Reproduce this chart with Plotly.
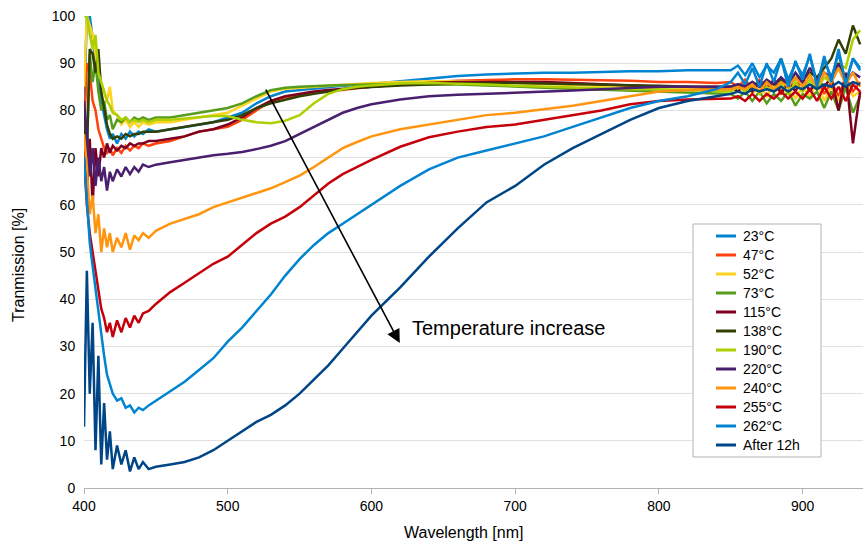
import plotly.graph_objects as go

wavelength = [400, 402, 404, 406, 408, 410, 412, 414, 416, 418, 420, 423, 426, 429, 432, 435, 438, 441, 445, 450,
              460, 470, 480, 490, 500, 510, 520, 530, 540, 550, 560, 570, 580, 590, 600,
              620, 640, 660, 680, 700, 720, 740, 760, 780, 800, 820, 840,
              850, 855, 860, 865, 870, 875, 880, 885, 890, 895, 900, 905, 910, 915, 920, 925, 930, 935, 940]

t23 = [80, 100, 100, 95, 90, 86, 82, 79, 76, 74, 75, 73, 75, 74, 75.5, 74.5, 75.5, 75, 76, 75.5,
       76, 76.5, 77, 77.5, 78.5, 79.5, 81.5, 83, 84, 84.3, 84.6, 85, 85.2, 85.4, 85.6,
       86.2, 86.8, 87.3, 87.6, 87.8, 88, 88, 88.2, 88.3, 88.3, 88.5, 88.5,
       88.5, 89.5, 87.5, 90, 87, 89.5, 88, 91, 86.5, 90, 87.5, 91.5, 86, 90.5, 87, 92, 86, 91, 88.5]
t47 = [75, 90, 88, 82, 80, 76, 74, 72, 71, 72, 70.5, 72, 71, 72.5, 71.5, 72.5, 72, 73, 72.5, 73,
       73.5, 74.5, 75.5, 76, 76.5, 78, 80, 82, 82.8, 83.3, 83.7, 84, 84.4, 84.7, 85,
       85.5, 86, 86.3, 86.5, 86.6, 86.6, 86.5, 86.5, 86.3, 86, 86, 85.8,
       86, 85, 86.5, 84.5, 86.5, 85, 86.5, 84, 86, 85, 87, 84, 86.5, 83.5, 86, 83, 87, 84, 86]
t52 = [85, 100, 98, 96, 92, 88, 86, 84, 82, 85, 80, 79, 77, 78, 76.5, 77.5, 76.5, 77.5, 77, 77.5,
       77.5, 78, 78.5, 79, 79.5, 81, 82.5, 84, 84.6, 84.8, 85, 85.3, 85.5, 85.7, 85.8,
       86, 86.2, 86.2, 86, 85.8, 85.6, 85.5, 85.3, 85, 85, 84.8, 84.5,
       85, 84, 85.5, 83.5, 85.5, 83, 85.5, 83.5, 85, 82.5, 85, 83, 86, 82, 85, 82, 86, 83, 84]
t73 = [78, 72, 92, 86, 90, 84, 80, 82, 78, 79, 76, 78, 77.5, 78.5, 77.5, 78.5, 78, 78.5, 78, 78.5,
       78.5, 79, 79.5, 80, 80.5, 81.5, 83, 84.3, 84.8, 85, 85.2, 85.3, 85.4, 85.4, 85.5,
       85.6, 85.6, 85.5, 85.3, 85, 84.8, 84.6, 84.4, 84.2, 84, 83.8, 83.5,
       83.5, 82.5, 84, 82, 84, 81.5, 83.5, 82, 84, 81, 83.5, 82.5, 84, 80.5, 84, 80, 85, 79.5, 83]
t115 = [78, 62, 74, 60, 72, 66, 72, 70, 73, 71, 72.5, 71.5, 72.5, 72, 73, 72.5, 73, 73, 73.5, 73.5,
        74, 74.5, 75.5, 76, 77, 78.5, 80.5, 82, 83, 83.5, 84, 84.3, 84.6, 84.8, 85,
        85.5, 85.8, 86, 86, 86, 86, 85.8, 85.5, 85.3, 85, 85, 84.8,
        85, 84, 85.5, 84, 86, 84.5, 86.5, 83.5, 86, 84, 87, 84, 86.5, 85, 87, 80, 88, 73, 84]
t138 = [80, 70, 93, 92, 88, 93, 84, 80, 77, 75, 74, 74.5, 74, 75, 74.5, 75, 75, 75.5, 75.5, 75.5,
        76, 76.5, 77, 77.5, 78, 79, 80.5, 81.5, 82.3, 83, 83.5, 84, 84.5, 84.8, 85,
        85.3, 85.5, 85.7, 85.8, 85.8, 85.7, 85.6, 85.5, 85.3, 85.2, 85, 85,
        85, 85.5, 85, 86, 85, 86, 85.5, 86.5, 85, 87, 86.5, 88, 87, 89, 91, 95, 92, 98, 94]
t190 = [100, 100, 96, 93, 96, 88, 86, 84, 82, 81, 79.5, 79, 78, 78.5, 77.5, 78, 77.5, 78, 77.5, 78,
        78, 78.3, 78.5, 78.8, 78.8, 78, 77.5, 77.3, 77.8, 79, 81.5, 83.5, 84.5, 85, 85.3,
        85.7, 85.8, 85.7, 85.5, 85.2, 85, 84.8, 84.6, 84.5, 84.5, 84.3, 84,
        84, 85, 84, 85.5, 83.5, 85, 84, 85.5, 83.5, 86, 84, 86.5, 84.5, 87, 86, 90, 89, 95, 97]
t220 = [82, 75, 66, 72, 64, 70, 65, 68, 63, 67, 65, 67.5, 66, 68, 66.5, 68, 67, 68.5, 68, 68.5,
        69, 69.5, 70, 70.5, 70.8, 71.2, 71.8, 72.5, 73.5, 75, 76.5, 78, 79.5, 80.5, 81.3,
        82.3, 83, 83.3, 83.5, 83.7, 84, 84.2, 84.5, 84.7, 85, 85, 85,
        85, 85.5, 85, 86, 85, 86.5, 85.5, 87, 85.5, 88, 86, 89, 86.5, 88, 87, 90, 86, 88, 87]
t240 = [75, 68, 58, 62, 54, 58, 50, 55, 51, 54, 50, 53, 51, 54, 50.5, 53.5, 52.5, 54, 53, 54.5,
        56, 57, 58, 59.5, 60.5, 61.5, 62.5, 63.5, 64.8, 66.2, 68, 70, 72, 73.3, 74.5,
        76, 77, 78, 79, 79.5, 80.3, 81, 82, 83, 84, 84.3, 84.5,
        84.5, 85, 84.5, 85.5, 84, 86, 84.5, 86, 85, 87, 85, 87.5, 85, 88, 86, 89, 85.5, 88, 85]
t255 = [70, 60, 54, 50, 46, 42, 38, 36, 33, 35, 32, 35.5, 33, 36, 34, 36.5, 35, 37, 37.5, 39,
        41.5, 43.5, 45.5, 47.5, 49, 51.5, 54, 56, 57.5, 59.5, 62, 64.5, 66.5, 68, 69.5,
        72.3, 74.3, 75.5, 76.5, 77, 78, 79, 80, 81.3, 82, 82.3, 82.5,
        82.5, 83, 82, 83.5, 82, 83.5, 82.5, 84, 82.5, 84, 82.5, 84.5, 82, 85, 82.5, 85, 82, 85.5, 84]
t262 = [70, 62, 52, 47, 42, 37, 32, 28, 24, 22, 20, 18.5, 19, 17, 17.5, 16, 17, 16.5, 17.5, 18.5,
        20.5, 22.5, 25, 27.5, 31, 34, 37.5, 41, 45, 48.5, 51.5, 54, 56, 58, 60,
        64, 67.5, 70, 71.5, 73, 74.5, 76.5, 78.5, 80.5, 82, 83, 84.5,
        86, 88, 85.5, 89, 85, 90, 86, 91, 85, 90.5, 86.5, 92, 85, 91.5, 86, 93, 85.5, 91, 89]
t12h = [13, 46, 20, 35, 8, 28, 5, 18, 6, 12, 4, 9, 5, 8, 3.5, 6.5, 4, 5.5, 4, 4.5,
        5, 5.5, 6.5, 8, 10, 12, 14, 15.5, 17.5, 20, 23, 26, 29.5, 33, 36.5,
        42.5, 49, 55, 60.5, 64, 68.5, 72, 75, 78, 80.5, 82, 83,
        83.5, 84, 83.5, 84.5, 84, 84.5, 84, 85, 84, 85, 84.5, 85.5, 84.5, 85.5, 85, 86, 85, 86, 85.5]

series_names = ["23°C", "47°C", "52°C", "73°C", "115°C", "138°C", "190°C", "220°C",
                "240°C", "255°C", "262°C", "After 12h"]
series_values = [t23, t47, t52, t73, t115, t138, t190, t220, t240, t255, t262, t12h]
series_colors = ["#0084d1", "#ff420e", "#ffd320", "#579d1c", "#7e0021", "#314004",
                 "#aecf00", "#4b1f6f", "#ff950e", "#c5000b", "#0084d1", "#004586"]

x_ticks = [400, 500, 600, 700, 800, 900]
y_ticks = [0, 10, 20, 30, 40, 50, 60, 70, 80, 90, 100]

FONT = "Liberation Sans, Arial, sans-serif"

W, H = 864, 545
ML, MR, MT, MB = 84, 1, 16, 57
PW, PH = W - ML - MR, H - MT - MB


def px_x(p):
    return (p - ML) / PW


def px_y(p):
    return (H - MB - p) / PH


fig = go.Figure()
for name, vals, col in zip(series_names, series_values, series_colors):
    fig.add_trace(go.Scatter(x=wavelength, y=vals, mode="lines", name=name,
                             line=dict(color=col, width=2.5), showlegend=False))

# arrow and label
fig.add_annotation(x=619.7, y=30.7, ax=525.9, ay=84.7, xref="x", yref="y",
                   axref="x", ayref="y", text="", showarrow=True,
                   arrowhead=2, arrowsize=1.7, arrowwidth=1.6, arrowcolor="#000000")
fig.add_annotation(x=627, y=34, xref="x", yref="y", text="Temperature increase",
                   showarrow=False, xanchor="left", yanchor="middle",
                   font=dict(family=FONT, size=20, color="#000000"))

# axis titles
fig.add_annotation(x=px_x(463), y=px_y(532), xref="paper", yref="paper",
                   text="Wavelength [nm]", showarrow=False, xanchor="center", yanchor="middle",
                   font=dict(family=FONT, size=16, color="#000000"))
fig.add_annotation(x=px_x(18), y=px_y(265), xref="paper", yref="paper",
                   text="Tranmission [%]", showarrow=False, textangle=-90,
                   xanchor="center", yanchor="middle",
                   font=dict(family=FONT, size=16, color="#000000"))

# legend box drawn by hand
fig.add_shape(type="rect", xref="paper", yref="paper",
              x0=px_x(693), x1=px_x(821), y0=px_y(457), y1=px_y(224),
              line=dict(color="#b3b3b3", width=1), fillcolor="white", layer="above")
for i, (name, col) in enumerate(zip(series_names, series_colors)):
    yc = px_y(236 + 19 * i)
    fig.add_shape(type="line", xref="paper", yref="paper",
                  x0=px_x(716), x1=px_x(736), y0=yc, y1=yc,
                  line=dict(color=col, width=3), layer="above")
    fig.add_annotation(x=px_x(741), y=yc, xref="paper", yref="paper", text=name,
                       showarrow=False, xanchor="left", yanchor="middle",
                       font=dict(family=FONT, size=14, color="#000000"))

fig.update_layout(
    width=W, height=H,
    margin=dict(l=ML, r=MR, t=MT, b=MB),
    paper_bgcolor="white", plot_bgcolor="white",
    font=dict(family=FONT, size=14, color="#000000"),
    showlegend=False,
    xaxis=dict(range=[400, 942], tickvals=x_ticks, showgrid=False, zeroline=False,
               showline=True, linecolor="#b3b3b3", linewidth=1,
               ticks="outside", ticklen=5, tickcolor="#b3b3b3",
               tickfont=dict(family=FONT, size=14)),
    yaxis=dict(range=[0, 100], tickvals=y_ticks, showgrid=True, gridcolor="#e0e0e0",
               zeroline=False, showline=False, ticks="outside", ticklen=5,
               tickcolor="rgba(0,0,0,0)",
               tickfont=dict(family=FONT, size=14)),
)

fig.write_html("out.html")
